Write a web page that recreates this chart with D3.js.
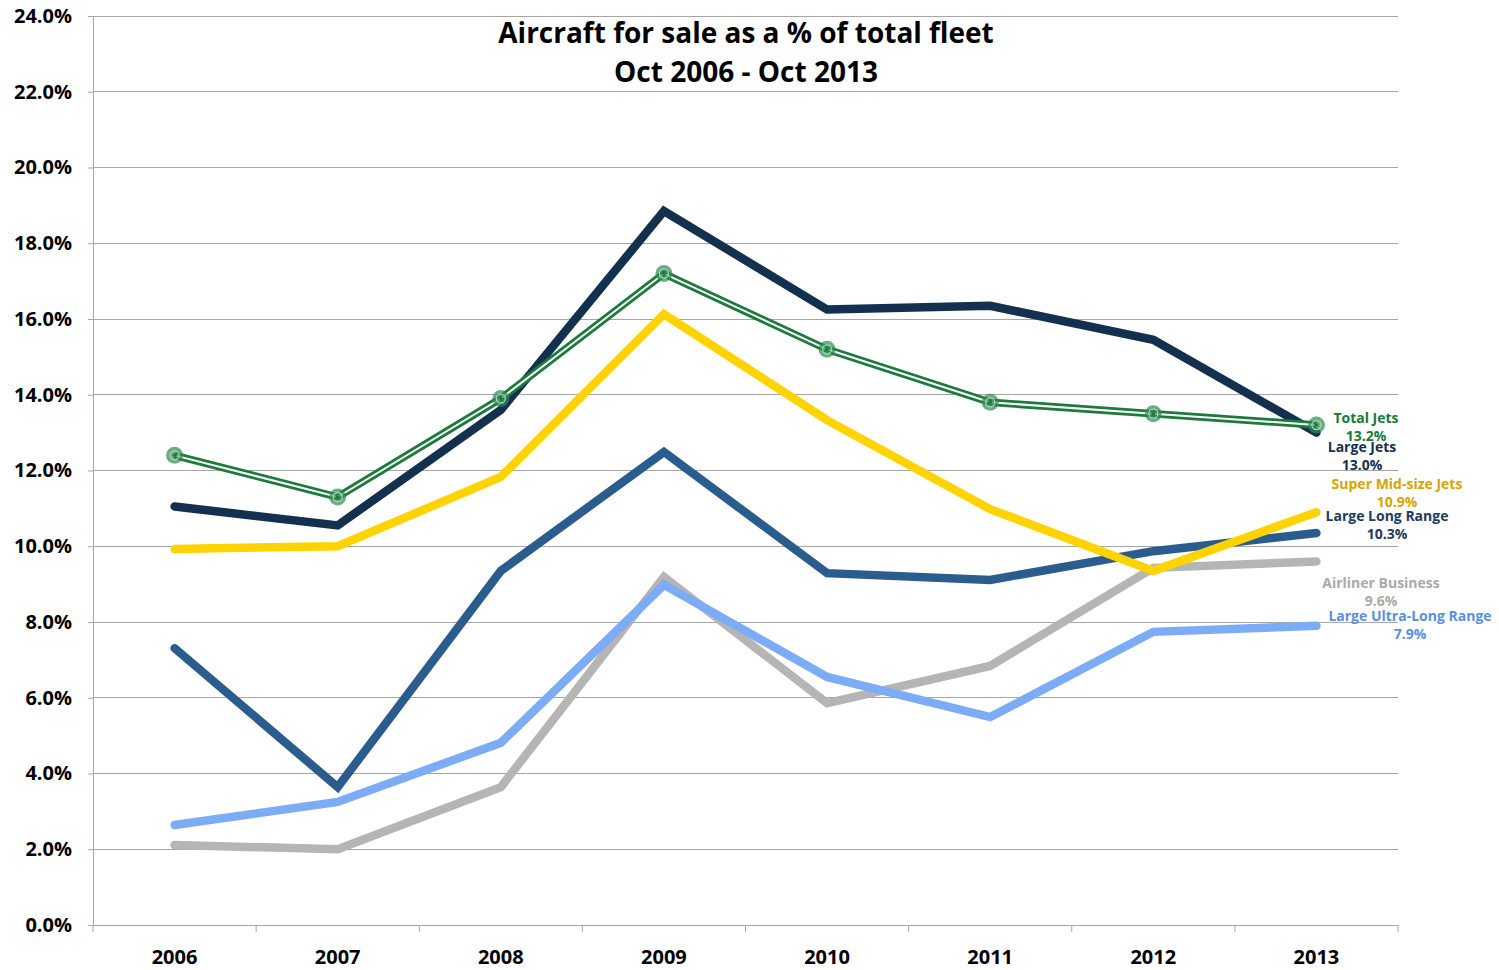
<!DOCTYPE html>
<html><head><meta charset="utf-8">
<script src="https://cdn.jsdelivr.net/npm/d3@7/dist/d3.min.js"></script>
<style>body{margin:0;background:#fff}svg{display:block}</style>
</head><body>
<script>
const years = ["2006","2007","2008","2009","2010","2011","2012","2013"];
const yTicks = [0,2,4,6,8,10,12,14,16,18,20,22,24];
const totalJets = [12.4,11.3,13.9,17.2,15.2,13.8,13.5,13.2];
const largeJets = [11.05,10.55,13.6,18.85,16.25,16.35,15.45,13.0];
const superMid = [9.93,10.0,11.83,16.13,13.33,10.98,9.35,10.9];
const largeLong = [7.31,3.64,9.35,12.49,9.29,9.11,9.87,10.35];
const airliner = [2.11,2.0,3.64,9.19,5.86,6.84,9.43,9.6];
const ultraLong = [2.64,3.25,4.81,8.98,6.55,5.49,7.74,7.9];
const seriesNames = ["Total Jets","Large Jets","Super Mid-size Jets","Large Long Range","Airliner Business","Large Ultra-Long Range"];
const labelValues = ["13.2%","13.0%","10.9%","10.3%","9.6%","7.9%"];

const W=1499,H=970;
const svg=d3.select("body").append("svg").attr("width",W).attr("height",H);
const x=d3.scaleBand().domain(years).range([93,1398]);
const y=d3.scaleLinear().domain([0,24]).range([925,16]);
const cx=d=>x(d)+x.bandwidth()/2;
const FONT="'Open Sans',sans-serif";

// gridlines
svg.append("g").selectAll("line").data(yTicks.slice(1)).join("line")
 .attr("x1",93).attr("x2",1398).attr("y1",d=>y(d)).attr("y2",d=>y(d))
 .attr("stroke","#a6a6a6").attr("stroke-width",1).attr("shape-rendering","crispEdges");

// y axis
const ya=svg.append("g").attr("transform","translate(93,0)")
 .call(d3.axisLeft(y).tickValues(yTicks).tickSize(5).tickPadding(16).tickFormat(d=>d.toFixed(1)+"%"));
ya.select(".domain").attr("stroke","#a6a6a6");
ya.selectAll(".tick line").attr("stroke","#a6a6a6");
ya.selectAll("text").attr("font-family",FONT).attr("font-weight","bold").attr("font-size",20).attr("fill","#000");

// x axis
const xa=svg.append("g").attr("transform","translate(0,925)")
 .call(d3.axisBottom(x).tickSize(0).tickPadding(25));
xa.select(".domain").attr("stroke","#a6a6a6");
xa.selectAll("text").attr("font-family",FONT).attr("font-weight","bold").attr("font-size",20).attr("fill","#000");
svg.append("g").selectAll("line").data(d3.range(9)).join("line")
 .attr("x1",i=>93+i*x.bandwidth()).attr("x2",i=>93+i*x.bandwidth())
 .attr("y1",925).attr("y2",932).attr("stroke","#a6a6a6");

const line=d3.line().x((d,i)=>cx(years[i])).y(d=>y(d));
const plain=[[airliner,"#b5b5b5"],[ultraLong,"#7dacf7"],[largeLong,"#2a5c8e"],[superMid,"#ffd300"],[largeJets,"#13304f"]];
plain.forEach(([vals,c])=>{
 svg.append("path").attr("d",line(vals)).attr("fill","none").attr("stroke",c)
  .attr("stroke-width",8.5).attr("stroke-linecap","round").attr("stroke-linejoin","miter");
});
// total jets double line
svg.append("path").attr("d",line(totalJets)).attr("fill","none").attr("stroke","#1c7b3c").attr("stroke-width",7.5);
svg.append("path").attr("d",line(totalJets)).attr("fill","none").attr("stroke","#fff").attr("stroke-width",2);
const mk=svg.append("g").selectAll("g").data(totalJets).join("g")
 .attr("transform",(d,i)=>`translate(${cx(years[i])},${y(d)})`);
mk.append("circle").attr("r",8.5).attr("fill","#2e8a52").attr("opacity",0.7);
mk.append("circle").attr("r",4.5).attr("fill","none").attr("stroke","#a8d6b6").attr("stroke-width",1.3);
mk.append("circle").attr("r",1.8).attr("fill","#1c7b3c");

// end labels
const labelPos=[[1366,418,"#177a3a"],[1362,447,"#17304f"],[1397,484,"#d8a400"],[1387,516,"#1d3b60"],[1381,583,"#a9a9a9"],[1410,616,"#5a8fe0"]];
const labels=seriesNames.map((n,i)=>({n,v:labelValues[i],x:labelPos[i][0],y:labelPos[i][1],c:labelPos[i][2]}));
const lg=svg.append("g").selectAll("g").data(labels).join("g").attr("fill",d=>d.c);
lg.append("text").attr("x",d=>d.x).attr("y",d=>d.y).attr("dy","0.35em").text(d=>d.n);
lg.append("text").attr("x",d=>d.x).attr("y",d=>d.y+18.5).attr("dy","0.35em").text(d=>d.v);
lg.selectAll("text").attr("text-anchor","middle").attr("font-family",FONT)
 .attr("font-weight","bold").attr("font-size",14);

// title
const t=svg.append("text").attr("text-anchor","middle").attr("font-family",FONT)
 .attr("font-weight","bold").attr("font-size",28).attr("fill","#000");
t.append("tspan").attr("x",746).attr("y",43).text("Aircraft for sale as a % of total fleet");
t.append("tspan").attr("x",746).attr("y",82).text("Oct 2006 - Oct 2013");
</script>
</body></html>
